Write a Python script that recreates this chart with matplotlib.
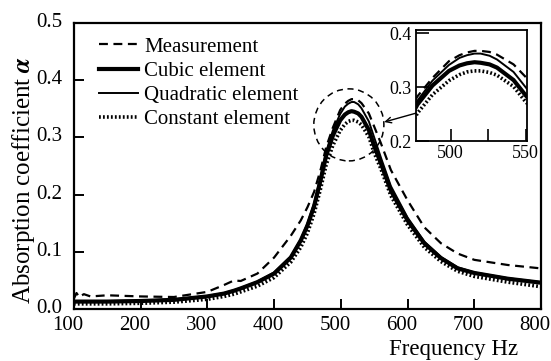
import matplotlib
matplotlib.use('Agg')
import matplotlib.pyplot as plt
import matplotlib.transforms as mtransforms
from matplotlib.patches import Ellipse

plt.rcParams['font.family'] = ['Liberation Serif', 'DejaVu Serif']
plt.rcParams['mathtext.fontset'] = 'stix'

# frequencies (Hz)
freq = [100, 104, 108, 115, 125, 150, 200, 250, 300, 325, 340, 350, 375, 400,
        425, 440, 450, 460, 470, 478, 488, 499, 506, 511, 516, 520, 526, 531,
        542, 550, 560, 575, 600, 625, 650, 675, 700, 750, 800]

measurement = [0.018, 0.028, 0.021, 0.026, 0.022, 0.024, 0.022, 0.021, 0.030,
               0.042, 0.050, 0.049, 0.062, 0.090, 0.128, 0.155, 0.178, 0.205,
               0.245, 0.283, 0.317, 0.348, 0.359, 0.364, 0.367, 0.367, 0.365,
               0.360, 0.342, 0.319, 0.290, 0.243, 0.190, 0.143, 0.115, 0.097,
               0.086, 0.077, 0.071]

quadratic = [0.014, 0.014, 0.014, 0.014, 0.014, 0.014, 0.015, 0.017, 0.023,
             0.028, 0.033, 0.037, 0.048, 0.064, 0.092, 0.122, 0.150, 0.185,
             0.233, 0.275, 0.312, 0.341, 0.354, 0.359, 0.362, 0.362, 0.358,
             0.351, 0.328, 0.300, 0.265, 0.215, 0.160, 0.118, 0.091, 0.073,
             0.064, 0.054, 0.047]

cubic = [0.013, 0.013, 0.013, 0.013, 0.013, 0.013, 0.014, 0.016, 0.022,
         0.027, 0.032, 0.036, 0.047, 0.062, 0.090, 0.120, 0.146, 0.180,
         0.227, 0.268, 0.303, 0.330, 0.340, 0.344, 0.346, 0.345, 0.342,
         0.336, 0.313, 0.285, 0.255, 0.207, 0.155, 0.115, 0.089, 0.071,
         0.063, 0.053, 0.046]

constant = [0.009, 0.009, 0.009, 0.009, 0.009, 0.009, 0.010, 0.012, 0.017,
            0.022, 0.026, 0.030, 0.040, 0.055, 0.082, 0.108, 0.133, 0.167,
            0.212, 0.252, 0.286, 0.312, 0.323, 0.328, 0.330, 0.330, 0.327,
            0.322, 0.301, 0.273, 0.245, 0.198, 0.147, 0.108, 0.083, 0.066,
            0.057, 0.047, 0.039]

xticks = [100, 200, 300, 400, 500, 600, 700, 800]
yticks = [0.0, 0.1, 0.2, 0.3, 0.4, 0.5]
inset_xticks = [500, 525, 550]
inset_xlabels = ['500', '', '550']
inset_yticks = [0.2, 0.3, 0.4]

dotted = (0, (0.5, 0.6))


def draw_series(ax):
    ax.plot(freq, measurement, color='black', lw=1.6, ls=(0, (4, 2.5)),
            label='Measurement')
    ax.plot(freq, cubic, color='black', lw=3.0, label='Cubic element')
    ax.plot(freq, quadratic, color='black', lw=1.4, label='Quadratic element')
    ax.plot(freq, constant, color='black', lw=2.6, ls=dotted,
            label='Constant element')


fig = plt.figure(figsize=(5.51, 3.61), dpi=100)
ax = fig.add_axes([0.134, 0.144, 0.848, 0.792])
draw_series(ax)

ax.set_xlim(100, 800)
ax.set_ylim(0, 0.5)
ax.set_xticks(xticks)
ax.set_yticks(yticks)
ax.set_yticklabels(['%.1f' % v for v in yticks])
ax.tick_params(direction='in', length=7, width=1.4, labelsize=15)
ax.tick_params(axis='y', pad=8)
ax.tick_params(axis='x', pad=5)
for s in ax.spines.values():
    s.set_linewidth(1.6)

# tick labels sit a little off their ticks in the original scan
xoff = mtransforms.ScaledTranslation(-6 / 100, 0, fig.dpi_scale_trans)
for lab in ax.get_xticklabels():
    lab.set_transform(lab.get_transform() + xoff)
yoff = mtransforms.ScaledTranslation(0, 3 / 100, fig.dpi_scale_trans)
for lab in ax.get_yticklabels():
    lab.set_transform(lab.get_transform() + yoff)

ax.set_ylabel(r'Absorption coefficient $\mathbfit{\alpha}$', fontsize=18)
ax.yaxis.set_label_coords(-0.079, 0.45)
ax.set_xlabel('Frequency Hz', fontsize=16.5, ha='right')
ax.xaxis.set_label_coords(0.951, -0.105)

ax.legend(loc='upper left', frameon=False, fontsize=15, handlelength=1.9,
          handletextpad=0.3, labelspacing=0.22, borderaxespad=0.0,
          bbox_to_anchor=(0.035, 0.98))

# dashed circle around the peak and connector to the inset
circ = Ellipse((512, 0.322), 105, 0.126, fill=False, ls=(0, (4, 3)),
               lw=1.1, color='black')
ax.add_patch(circ)
ax.annotate('', xy=(565, 0.327), xytext=(614, 0.343),
            arrowprops=dict(arrowstyle='->', lw=1.0, color='black',
                            shrinkA=0, shrinkB=0))

# inset zoom on the peak
ins = fig.add_axes([0.755, 0.609, 0.2015, 0.307])
draw_series(ins)
ins.set_xlim(477, 551)
ins.set_ylim(0.2, 0.405)
ins.set_xticks(inset_xticks)
ins.set_xticklabels(inset_xlabels)
ins.set_yticks(inset_yticks)
ins.set_yticklabels(['%.1f' % v for v in inset_yticks])
ins.tick_params(direction='in', length=9, width=1.2, labelsize=13, pad=3)
for s in ins.spines.values():
    s.set_linewidth(1.3)

fig.savefig('out.png', dpi=100)
